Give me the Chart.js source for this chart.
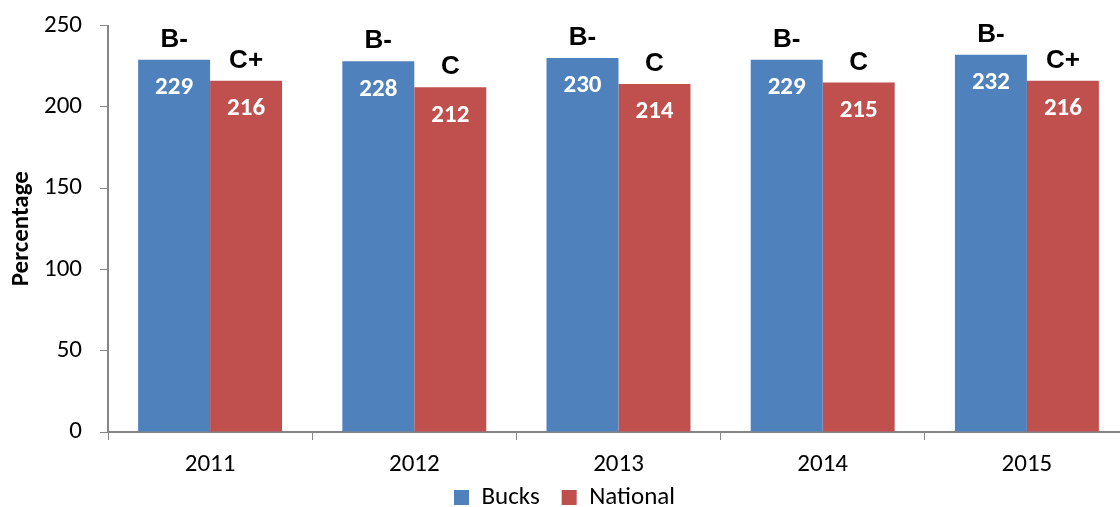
<!DOCTYPE html>
<html>
<head>
<meta charset="utf-8">
<script src="https://cdn.jsdelivr.net/npm/chart.js@4/dist/chart.umd.min.js"></script>
<style>
  html, body { margin: 0; padding: 0; background: #fff; overflow: hidden; }
  #wrap { position: relative; width: 1130px; height: 520px; }
</style>
</head>
<body>
<div id="wrap"><canvas id="c"></canvas></div>
<script>
const categories = ['2011', '2012', '2013', '2014', '2015'];
const seriesNames = ['Bucks', 'National'];
const bucksValues = [229, 228, 230, 229, 232];
const nationalValues = [216, 212, 214, 215, 216];
const bucksGrades = ['B-', 'B-', 'B-', 'B-', 'B-'];
const nationalGrades = ['C+', 'C', 'C', 'C', 'C+'];
const yTicks = [0, 50, 100, 150, 200, 250];

const tickFont = "Carlito, Lato, 'Liberation Sans', sans-serif";
const axisColor = '#868686';

const labelPlugin = {
  id: 'barLabels',
  afterDatasetsDraw(chart) {
    const ctx = chart.ctx;
    const gradeSets = [bucksGrades, nationalGrades];
    chart.data.datasets.forEach((ds, di) => {
      const meta = chart.getDatasetMeta(di);
      meta.data.forEach((bar, i) => {
        ctx.save();
        ctx.textAlign = 'center';
        ctx.textBaseline = 'middle';
        ctx.fillStyle = '#ffffff';
        ctx.font = "bold 25px " + tickFont;
        ctx.fillText(String(ds.data[i]), bar.x, bar.y + 28);
        ctx.fillStyle = '#000000';
        ctx.font = "bold 26px 'Liberation Sans', Arial, sans-serif";
        ctx.fillText(gradeSets[di][i], bar.x, bar.y - 20);
        ctx.restore();
      });
    });
  }
};

new Chart(document.getElementById('c'), {
  type: 'bar',
  data: {
    labels: categories,
    datasets: [
      { label: seriesNames[0], data: bucksValues, backgroundColor: '#4F81BD', borderWidth: 0 },
      { label: seriesNames[1], data: nationalValues, backgroundColor: '#C0504D', borderWidth: 0 }
    ]
  },
  options: {
    responsive: true,
    maintainAspectRatio: false,
    animation: false,
    layout: { padding: { top: 0, right: 1, left: 0, bottom: 0 } },
    datasets: { bar: { categoryPercentage: 0.705, barPercentage: 1.0 } },
    plugins: {
      tooltip: { enabled: false },
      legend: {
        position: 'bottom',
        labels: {
          boxWidth: 15, boxHeight: 15, padding: 5,
          color: '#000', font: { family: tickFont, size: 25 },
          generateLabels(chart) {
            const items = Chart.defaults.plugins.legend.labels.generateLabels(chart);
            items.forEach((it, idx) => { if (idx < items.length - 1) it.text = it.text + '   '; });
            return items;
          }
        }
      }
    },
    scales: {
      x: {
        grid: { display: true, drawOnChartArea: false, drawTicks: true, tickLength: 8, color: axisColor, offset: true },
        border: { color: axisColor, width: 2 },
        ticks: { color: '#000', font: { family: tickFont, size: 25 }, padding: 10, maxRotation: 0 },
        afterFit(scale) { scale.height = 48; }
      },
      y: {
        min: 0, max: 250,
        afterBuildTicks(scale) { scale.ticks = yTicks.map(v => ({ value: v })); },
        grid: { display: true, drawOnChartArea: false, drawTicks: true, tickLength: 8, color: axisColor },
        border: { color: axisColor, width: 2 },
        ticks: { color: '#000', font: { family: tickFont, size: 25, lineHeight: 0.6 }, padding: 18 },
        title: { display: true, text: 'Percentage', color: '#000', font: { family: tickFont, size: 25, weight: 'bold' }, padding: { top: 7, bottom: 0 } },
        afterFit(scale) { scale.width = 108; }
      }
    }
  },
  plugins: [labelPlugin]
});
</script>
</body>
</html>
